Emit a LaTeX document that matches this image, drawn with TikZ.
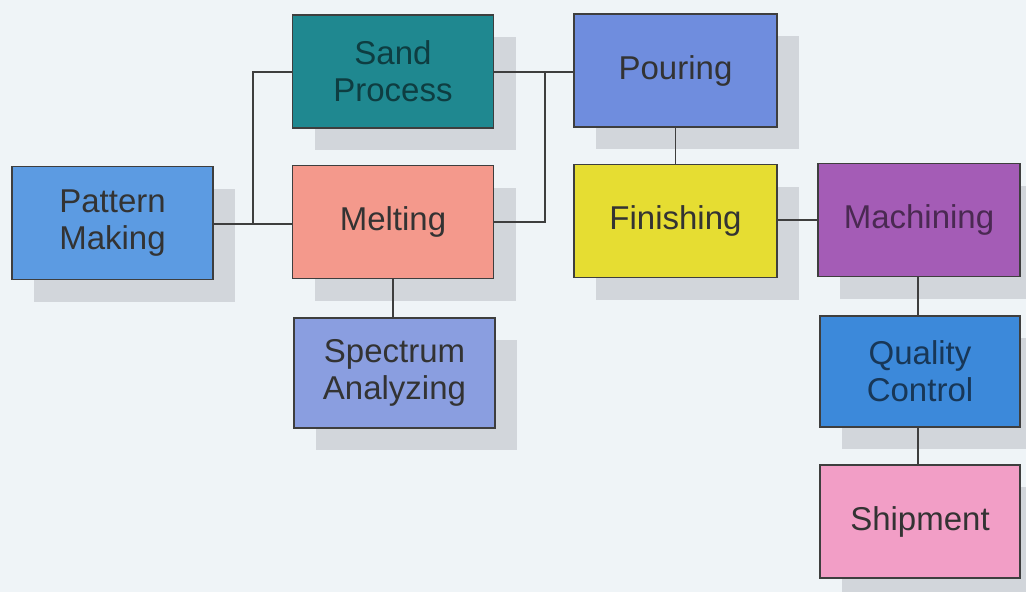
\documentclass[tikz,border=0pt]{standalone}
\usepackage{fontspec}
\setmainfont{Liberation Sans}
\usetikzlibrary{shadows}
\definecolor{bg}{HTML}{EFF4F7}
\definecolor{shadowgrey}{HTML}{D2D6DB}
\definecolor{edge}{HTML}{3E3E3E}
\definecolor{cPM}{HTML}{5C9BE2}
\definecolor{cSP}{HTML}{1F8890}
\definecolor{cME}{HTML}{F4998C}
\definecolor{cSA}{HTML}{8A9EE0}
\definecolor{cPO}{HTML}{6F8DDE}
\definecolor{cFI}{HTML}{E6DD32}
\definecolor{cMA}{HTML}{A45CB6}
\definecolor{cQC}{HTML}{3C89DA}
\definecolor{cSH}{HTML}{F29EC6}
\tikzset{
  x=1pt, y=-1pt,
  box/.style={draw=edge, line width=1.8pt, minimum width=201pt, minimum height=113pt,
    inner sep=0pt, align=center, text=black!80,
    font=\fontsize{33}{37}\selectfont,
    drop shadow={shadow xshift=22pt, shadow yshift=-22pt, fill=shadowgrey, opacity=1}},
  link/.style={draw=edge, line width=1.8pt}
}
\begin{document}
\begin{tikzpicture}
\useasboundingbox[fill=bg] (0,0) rectangle (1026,592);
\node[box, fill=cPM] (pm) at (112.5,223) {Pattern\\Making};
\node[box, fill=cSP, text=cSP!45!black] (sp) at (393,71.5) {Sand\\Process};
\node[box, fill=cME] (me) at (393,222) {Melting};
\node[box, fill=cSA, minimum height=110pt] (sa) at (394.5,373) {Spectrum\\Analyzing};
\node[box, fill=cPO, minimum width=203pt] (po) at (675.5,70.5) {Pouring};
\node[box, fill=cFI, minimum width=203pt] (fi) at (675.5,221) {Finishing};
\node[box, fill=cMA, minimum width=202pt, text=cMA!45!black] (ma) at (919,220) {Machining};
\node[box, fill=cQC, minimum width=200pt, minimum height=111pt, text=cQC!40!black] (qc) at (920,371.5) {Quality\\Control};
\node[box, fill=cSH, minimum width=200pt] (sh) at (920,521.5) {Shipment};
\coordinate (j1) at (253,224);
\coordinate (j2) at (545,72);
\draw[link] (pm.east |- j1) -- (me.west |- j1);
\draw[link] (j1) |- (sp.west |- 0,72);
\draw[link] (sp.east |- j2) -- (po.west |- j2);
\draw[link] (j2) |- (me.east |- 0,222);
\draw[link] (po.south) -- (fi.north);
\draw[link] (fi.east |- 0,220) -- (ma.west |- 0,220);
\draw[link] (ma.south -| 918,0) -- (qc.north -| 918,0);
\draw[link] (qc.south -| 918,0) -- (sh.north -| 918,0);
\draw[link] (me.south) -- (sa.north -| me.south);
\end{tikzpicture}
\end{document}
